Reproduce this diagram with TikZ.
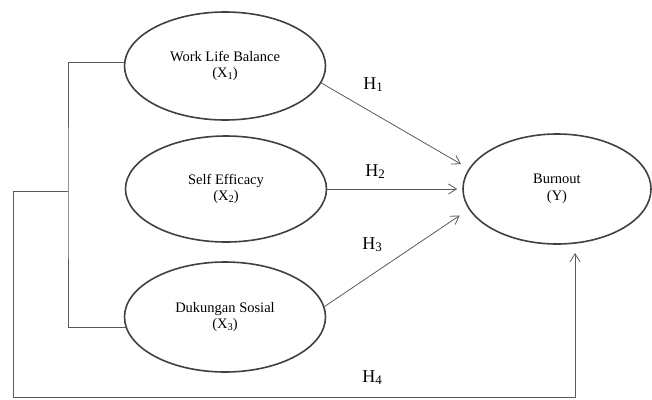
\documentclass[tikz,border=0pt]{standalone}
\usepackage{fontspec}
\setmainfont{Liberation Serif}
\usepackage{tikz}
\usetikzlibrary{positioning,arrows.meta,calc,shapes.geometric}
\definecolor{ringgray}{HTML}{404040}
\definecolor{linkgray}{HTML}{5A5A5A}
\newcommand{\lowidx}[1]{\raisebox{-0.12em}{\scalebox{0.72}{#1}}}

\begin{document}
\begin{tikzpicture}[x=1pt, y=-1pt,
    construct/.style={ellipse, draw=ringgray, line width=1.6pt, inner sep=0pt,
      minimum width=201pt, minimum height=108pt, align=center,
      font=\fontsize{14.5}{16.5}\selectfont},
    link/.style={draw=linkgray, line width=0.8pt},
    arrow/.style={link, -{Straight Barb[length=8pt,width=10pt]}},
    hlabel/.style={font=\fontsize{18}{20}\selectfont}]
    \useasboundingbox (0,0) rectangle (652,399);
    \node[construct] (wlb) at (225,66) {Work Life Balance\\(X\lowidx{1})};
    \node[construct, minimum height=106pt] (se) at (226,189) {Self Efficacy\\(X\lowidx{2})};
    \node[construct, minimum height=110pt] (ds) at (225,317) {Dukungan Sosial\\(X\lowidx{3})};
    \node[construct, minimum width=188pt, minimum height=110pt] (burnout) at (557,189) {Burnout\\(Y)};
    \node[hlabel] (h1) at (373,85) {H\lowidx{1}};
    \node[hlabel] (h2) at (375,172) {H\lowidx{2}};
    \node[hlabel] (h3) at (372,245) {H\lowidx{3}};
    \node[hlabel] (h4) at (372,378) {H\lowidx{4}};
    % bracket and the long path to Y
    \coordinate (spine) at (68,191);
    \coordinate (corner) at (13,191);
    \coordinate (base) at (13,397);
    \coordinate (h4end) at (575,253);
    \draw[link] (wlb.178) -| (spine) |- (ds.186);
    \draw[arrow] (spine) -- (corner) -- (base) -| (h4end);
    % direct paths
    \draw[arrow, shorten >=9pt] (wlb.-10) -- (burnout.167);
    \draw[arrow, shorten >=5pt] (se.east) -- (burnout.west);
    \draw[arrow, shorten >=11pt] (ds.6) -- (burnout.193);
  \end{tikzpicture}
\end{document}
